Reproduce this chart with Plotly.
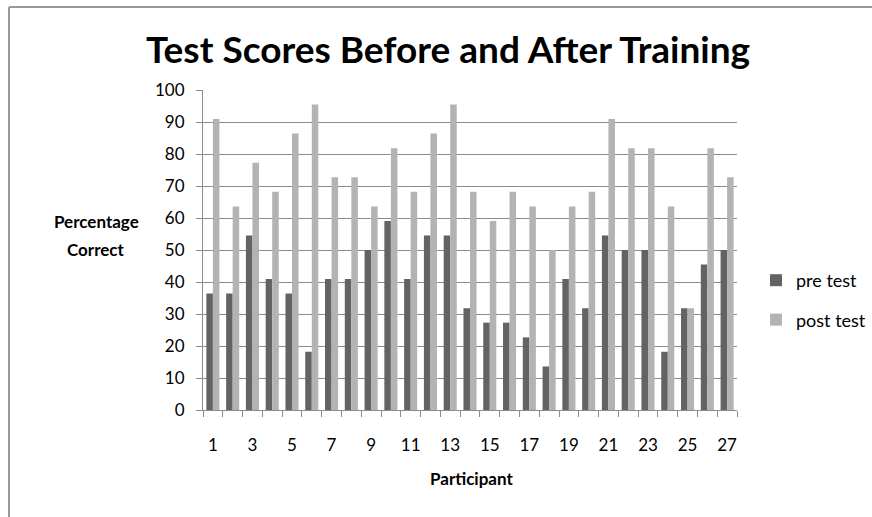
import plotly.graph_objects as go

participants = list(range(1, 28))
pre_test = [36.4, 36.4, 54.5, 40.9, 36.4, 18.2, 40.9, 40.9, 50.0, 59.1,
            40.9, 54.5, 54.5, 31.8, 27.3, 27.3, 22.7, 13.6, 40.9, 31.8,
            54.5, 50.0, 50.0, 18.2, 31.8, 45.5, 50.0]
post_test = [90.9, 63.6, 77.3, 68.2, 86.4, 95.5, 72.7, 72.7, 63.6, 81.8,
             68.2, 86.4, 95.5, 68.2, 59.1, 68.2, 63.6, 50.0, 63.6, 68.2,
             90.9, 81.8, 81.8, 63.6, 31.8, 81.8, 72.7]
x_tick_labels = [str(i) for i in range(1, 28, 2)]
y_ticks = list(range(0, 101, 10))

FONT = "Lato, 'Open Sans', sans-serif"
AXIS_COL = "#8c8c8c"

fig = go.Figure()
fig.add_trace(go.Bar(x=participants, y=pre_test, name="pre test",
                     marker=dict(color="#636363", line=dict(width=0)),
                     legendgroup="a"))
fig.add_trace(go.Bar(x=participants, y=post_test, name="post test",
                     marker=dict(color="#b3b3b3", line=dict(width=0)),
                     legendgroup="b"))

W, H = 872, 517
L, R, T, B = 203, 737, 90, 410  # plot area in screen coords
pw, ph = R - L, B - T

def px(x):
    return (x - L) / pw

def py(y):
    return (B - y) / ph

fig.update_layout(
    width=W, height=H,
    margin=dict(l=L, r=W - R, t=T, b=H - B, pad=0, autoexpand=False),
    paper_bgcolor="white", plot_bgcolor="white",
    barmode="group", bargap=0.34, bargroupgap=0,
    font=dict(family=FONT, color="#000000"),
    title=dict(text="<b>Test Scores Before and After Training</b>",
               x=448 / W, xanchor="center",
               y=1 - 50 / H, yanchor="middle",
               font=dict(size=37, family=FONT, color="#000000")),
    showlegend=True,
    legend=dict(x=px(756), xanchor="left", y=py(262), yanchor="top",
                font=dict(size=18, family=FONT), traceorder="grouped",
                tracegroupgap=13, bgcolor="rgba(0,0,0,0)", itemwidth=30),
    xaxis=dict(range=[0.5, 27.5], tickmode="array",
               tickvals=list(range(1, 28, 2)), ticktext=x_tick_labels,
               ticks="", showgrid=False, zeroline=False,
               showline=True, linecolor=AXIS_COL, linewidth=1,
               tickfont=dict(size=17, family=FONT), ticklabelstandoff=20,
               minor=dict(tickvals=[i + 0.5 for i in range(0, 28)],
                          ticks="outside", ticklen=6, tickcolor=AXIS_COL,
                          showgrid=False)),
    yaxis=dict(range=[0, 100], tickmode="array", tickvals=y_ticks,
               ticks="outside", ticklen=6, tickcolor=AXIS_COL,
               showgrid=True, gridcolor="#8c8c8c", gridwidth=1,
               zeroline=False, showline=True, linecolor=AXIS_COL, linewidth=1,
               tickfont=dict(size=17, family=FONT), ticklabelstandoff=8),
)

fig.add_annotation(text="<b>Percentage</b>", xref="paper", yref="paper",
                   x=px(96), y=py(221), xanchor="center", yanchor="middle",
                   showarrow=False, font=dict(size=17, family=FONT))
fig.add_annotation(text="<b>Correct</b>", xref="paper", yref="paper",
                   x=px(96), y=py(249), xanchor="center", yanchor="middle",
                   showarrow=False, font=dict(size=17, family=FONT))
fig.add_annotation(text="<b>Participant</b>", xref="paper", yref="paper",
                   x=px(471), y=py(478), xanchor="center", yanchor="middle",
                   showarrow=False, font=dict(size=17, family=FONT))

# outer chart border (left and top edges visible)
fig.add_shape(type="line", xref="paper", yref="paper",
              x0=px(9), x1=px(9), y0=py(7), y1=py(540),
              line=dict(color="#9a9a9a", width=2))
fig.add_shape(type="line", xref="paper", yref="paper",
              x0=px(9), x1=px(900), y0=py(7), y1=py(7),
              line=dict(color="#9a9a9a", width=2))

fig.write_html("out.html",
               config={"displayModeBar": False},
               post_script="document.body.style.margin='0';"
                           "document.body.style.overflow='hidden';")
